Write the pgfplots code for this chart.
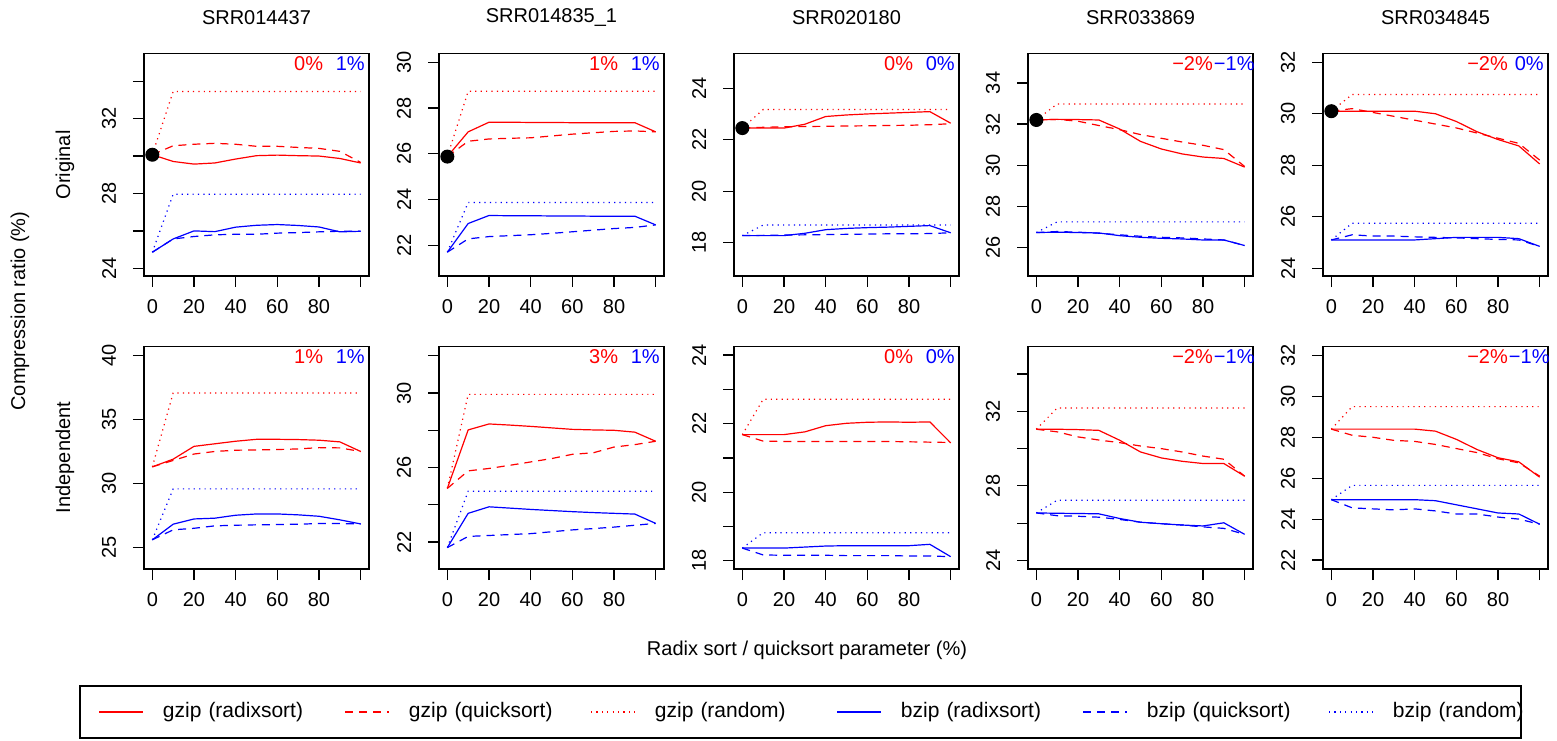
\documentclass[border=0pt]{standalone}
\usepackage{fontspec}
\setmainfont{Liberation Sans}
\usepackage{pgfplots}
\pgfplotsset{compat=1.18}
\newcommand\lab{\fontsize{10}{12}\selectfont}
\newcommand\leg{\fontsize{10.5}{12.5}\selectfont}
\pgfplotsset{
  panel/.style={
    scale only axis, width=112.5pt, height=111.25pt,
    anchor=south west,
    xmin=-4, xmax=104,
    xtick={0,20,40,60,80,100}, xticklabels={0,20,40,60,80,},
    tick align=outside, xtick pos=bottom, ytick pos=left,
    major tick length=5.5pt,
    every tick/.style={black, line width=0.6pt},
    axis line style={line width=0.6pt},
    tick label style={font=\lab},
    xticklabel style={yshift=-2.7pt},
    yticklabel style={xshift=-4.9pt, rotate=90, anchor=south},
    /pgf/number format/assume math mode=true,
    every axis plot/.append style={line width=0.6pt},
    clip=true,
  },
  rs/.style={red, solid},
  rq/.style={red, dash pattern=on 4pt off 3pt},
  rr/.style={red, dash pattern=on 0.6pt off 2.1pt},
  bs/.style={blue, solid},
  bq/.style={blue, dash pattern=on 4pt off 3pt},
  br/.style={blue, dash pattern=on 0.6pt off 2.1pt},
  dot/.style={only marks, mark=*, mark size=3.2pt, black},
}
\newcommand\ann[2]{\pgfplotsextra{\begin{scope}\clip (rel axis cs:0,0) rectangle (rel axis cs:1,1);
  \node[red,font=\lab] at (rel axis cs:0.7315,0.955) {#1};
  \node[blue,font=\lab] at (rel axis cs:0.9167,0.955) {#2};\end{scope}}}
\begin{document}
\begin{tikzpicture}
% ---------------- top row ----------------
\begin{axis}[panel, at={(72pt,232pt)}, ymin=23.59, ymax=35.48,
  ytick={24,26,...,34}, yticklabels={24,,28,,32,}]
\addplot[rs] coordinates {(0,30.07)(10,29.71)(20,29.57)(30,29.63)(40,29.84)(50,30.02)(60,30.05)(70,30.02)(80,30.0)(90,29.87)(100,29.63)};
\addplot[rq] coordinates {(0,30.07)(10,30.55)(20,30.63)(30,30.68)(40,30.63)(50,30.52)(60,30.52)(70,30.46)(80,30.41)(90,30.25)(100,29.66)};
\addplot[rr] coordinates {(0,30.07)(10,33.45)(100,33.45)};
\addplot[bs] coordinates {(0,24.86)(10,25.57)(20,26.0)(30,25.96)(40,26.2)(50,26.3)(60,26.34)(70,26.29)(80,26.21)(90,25.95)(100,25.98)};
\addplot[bq] coordinates {(0,24.86)(10,25.57)(20,25.7)(30,25.79)(40,25.82)(50,25.82)(60,25.88)(70,25.91)(80,25.95)(90,25.98)(100,25.98)};
\addplot[br] coordinates {(0,24.86)(10,27.96)(100,27.96)};
\addplot[dot] coordinates {(0,30.07)};
\ann{0\%}{1\%}
\end{axis}
\begin{axis}[panel, at={(219.5pt,232pt)}, ymin=20.67, ymax=30.38,
  ytick={22,24,...,30}]
\addplot[rs] coordinates {(0,25.88)(10,26.96)(20,27.38)(30,27.38)(40,27.37)(50,27.37)(60,27.36)(70,27.36)(80,27.36)(90,27.36)(100,26.96)};
\addplot[rq] coordinates {(0,25.88)(10,26.55)(20,26.65)(30,26.68)(40,26.7)(50,26.78)(60,26.86)(70,26.92)(80,26.98)(90,27.0)(100,26.96)};
\addplot[rr] coordinates {(0,25.88)(10,28.73)(100,28.73)};
\addplot[bs] coordinates {(0,21.71)(10,22.96)(20,23.31)(30,23.3)(40,23.3)(50,23.29)(60,23.29)(70,23.28)(80,23.28)(90,23.28)(100,22.9)};
\addplot[bq] coordinates {(0,21.71)(10,22.29)(20,22.39)(30,22.43)(40,22.47)(50,22.53)(60,22.6)(70,22.67)(80,22.74)(90,22.79)(100,22.9)};
\addplot[br] coordinates {(0,21.71)(10,23.88)(100,23.88)};
\addplot[dot] coordinates {(0,25.88)};
\ann{1\%}{1\%}
\end{axis}
\begin{axis}[panel, at={(367pt,232pt)}, ymin=16.7, ymax=25.35,
  ytick={18,20,...,24}]
\addplot[rs] coordinates {(0,22.45)(10,22.45)(20,22.45)(30,22.6)(40,22.9)(50,22.96)(60,23.0)(70,23.03)(80,23.06)(90,23.09)(100,22.64)};
\addplot[rq] coordinates {(0,22.45)(10,22.48)(20,22.5)(30,22.51)(40,22.52)(50,22.53)(60,22.54)(70,22.55)(80,22.56)(90,22.58)(100,22.62)};
\addplot[rr] coordinates {(0,22.45)(10,23.17)(100,23.17)};
\addplot[bs] coordinates {(0,18.27)(10,18.27)(20,18.27)(30,18.36)(40,18.5)(50,18.55)(60,18.58)(70,18.6)(80,18.63)(90,18.66)(100,18.38)};
\addplot[bq] coordinates {(0,18.27)(10,18.28)(20,18.29)(30,18.3)(40,18.31)(50,18.32)(60,18.33)(70,18.34)(80,18.34)(90,18.35)(100,18.38)};
\addplot[br] coordinates {(0,18.27)(10,18.68)(100,18.68)};
\addplot[dot] coordinates {(0,22.45)};
\ann{0\%}{0\%}
\end{axis}
\begin{axis}[panel, at={(514pt,232pt)}, ymin=24.62, ymax=35.43,
  ytick={26,28,...,34}]
\addplot[rs] coordinates {(0,32.2)(10,32.23)(20,32.22)(30,32.2)(40,31.76)(50,31.16)(60,30.79)(70,30.55)(80,30.4)(90,30.33)(100,29.91)};
\addplot[rq] coordinates {(0,32.2)(10,32.23)(20,32.14)(30,31.93)(40,31.73)(50,31.49)(60,31.31)(70,31.13)(80,30.97)(90,30.76)(100,29.94)};
\addplot[rr] coordinates {(0,32.2)(10,32.98)(100,32.98)};
\addplot[bs] coordinates {(0,26.73)(10,26.75)(20,26.73)(30,26.71)(40,26.58)(50,26.5)(60,26.45)(70,26.42)(80,26.37)(90,26.37)(100,26.1)};
\addplot[bq] coordinates {(0,26.73)(10,26.78)(20,26.75)(30,26.7)(40,26.62)(50,26.55)(60,26.5)(70,26.47)(80,26.42)(90,26.37)(100,26.1)};
\addplot[br] coordinates {(0,26.73)(10,27.25)(100,27.25)};
\addplot[dot] coordinates {(0,32.2)};
\ann{−2\%}{−1\%}
\end{axis}
\begin{axis}[panel, at={(661.5pt,232pt)}, ymin=23.7, ymax=32.34,
  ytick={24,26,...,32}]
\addplot[rs] coordinates {(0,30.1)(10,30.1)(20,30.1)(30,30.1)(40,30.1)(50,30.0)(60,29.7)(70,29.3)(80,29.0)(90,28.75)(100,28.05)};
\addplot[rq] coordinates {(0,30.1)(10,30.2)(20,30.05)(30,29.9)(40,29.75)(50,29.6)(60,29.45)(70,29.25)(80,29.05)(90,28.85)(100,28.2)};
\addplot[rr] coordinates {(0,30.1)(10,30.75)(100,30.75)};
\addplot[bs] coordinates {(0,25.1)(10,25.1)(20,25.1)(30,25.1)(40,25.1)(50,25.15)(60,25.2)(70,25.2)(80,25.2)(90,25.15)(100,24.85)};
\addplot[bq] coordinates {(0,25.1)(10,25.3)(20,25.25)(30,25.25)(40,25.22)(50,25.2)(60,25.18)(70,25.15)(80,25.12)(90,25.1)(100,24.85)};
\addplot[br] coordinates {(0,25.1)(10,25.75)(100,25.75)};
\addplot[dot] coordinates {(0,30.1)};
\ann{−2\%}{0\%}
\end{axis}
% ---------------- bottom row ----------------
\begin{axis}[panel, at={(72pt,85.5pt)}, ymin=23.32, ymax=40.7,
  ytick={25,30,...,40}]
\addplot[rs] coordinates {(0,31.3)(10,31.9)(20,32.9)(30,33.1)(40,33.3)(50,33.45)(60,33.45)(70,33.43)(80,33.38)(90,33.25)(100,32.5)};
\addplot[rq] coordinates {(0,31.3)(10,31.8)(20,32.3)(30,32.5)(40,32.6)(50,32.62)(60,32.65)(70,32.7)(80,32.8)(90,32.78)(100,32.5)};
\addplot[rr] coordinates {(0,31.3)(10,37.07)(100,37.07)};
\addplot[bs] coordinates {(0,25.6)(10,26.82)(20,27.23)(30,27.29)(40,27.52)(50,27.62)(60,27.62)(70,27.55)(80,27.44)(90,27.16)(100,26.84)};
\addplot[bq] coordinates {(0,25.6)(10,26.38)(20,26.5)(30,26.69)(40,26.74)(50,26.77)(60,26.79)(70,26.82)(80,26.87)(90,26.87)(100,26.84)};
\addplot[br] coordinates {(0,25.6)(10,29.58)(100,29.58)};
\ann{1\%}{1\%}
\end{axis}
\begin{axis}[panel, at={(219.5pt,85.5pt)}, ymin=20.55, ymax=32.5,
  ytick={22,24,...,32}, yticklabels={22,,26,,30,}]
\addplot[rs] coordinates {(0,24.88)(10,28.02)(20,28.34)(30,28.28)(40,28.21)(50,28.13)(60,28.05)(70,28.02)(80,28.0)(90,27.9)(100,27.41)};
\addplot[rq] coordinates {(0,24.88)(10,25.82)(20,25.95)(30,26.12)(40,26.3)(50,26.48)(60,26.71)(70,26.79)(80,27.1)(90,27.23)(100,27.41)};
\addplot[rr] coordinates {(0,24.88)(10,29.93)(100,29.93)};
\addplot[bs] coordinates {(0,21.7)(10,23.54)(20,23.89)(30,23.82)(40,23.75)(50,23.69)(60,23.63)(70,23.58)(80,23.54)(90,23.5)(100,23.0)};
\addplot[bq] coordinates {(0,21.7)(10,22.3)(20,22.35)(30,22.4)(40,22.45)(50,22.55)(60,22.65)(70,22.72)(80,22.8)(90,22.9)(100,23.0)};
\addplot[br] coordinates {(0,21.7)(10,24.73)(100,24.73)};
\ann{3\%}{1\%}
\end{axis}
\begin{axis}[panel, at={(367pt,85.5pt)}, ymin=17.76, ymax=24.25,
  ytick={18,19,...,24}, yticklabels={18,,20,,22,,24}]
\addplot[rs] coordinates {(0,21.68)(10,21.68)(20,21.68)(30,21.76)(40,21.94)(50,22.01)(60,22.04)(70,22.05)(80,22.04)(90,22.05)(100,21.44)};
\addplot[rq] coordinates {(0,21.68)(10,21.49)(20,21.48)(30,21.48)(40,21.48)(50,21.48)(60,21.48)(70,21.48)(80,21.47)(90,21.46)(100,21.45)};
\addplot[rr] coordinates {(0,21.68)(10,22.71)(100,22.71)};
\addplot[bs] coordinates {(0,18.37)(10,18.37)(20,18.37)(30,18.4)(40,18.43)(50,18.44)(60,18.44)(70,18.44)(80,18.44)(90,18.48)(100,18.12)};
\addplot[bq] coordinates {(0,18.37)(10,18.17)(20,18.16)(30,18.16)(40,18.16)(50,18.15)(60,18.15)(70,18.15)(80,18.14)(90,18.14)(100,18.12)};
\addplot[br] coordinates {(0,18.37)(10,18.82)(100,18.82)};
\ann{0\%}{0\%}
\end{axis}
\begin{axis}[panel, at={(514pt,85.5pt)}, ymin=23.54, ymax=35.48,
  ytick={24,26,...,34}, yticklabels={24,,28,,32,}]
\addplot[rs] coordinates {(0,31.04)(10,31.04)(20,31.02)(30,30.98)(40,30.45)(50,29.82)(60,29.5)(70,29.32)(80,29.2)(90,29.2)(100,28.52)};
\addplot[rq] coordinates {(0,31.04)(10,30.9)(20,30.63)(30,30.46)(40,30.32)(50,30.14)(60,30.0)(70,29.82)(80,29.6)(90,29.43)(100,28.52)};
\addplot[rr] coordinates {(0,31.04)(10,32.18)(100,32.18)};
\addplot[bs] coordinates {(0,26.55)(10,26.53)(20,26.52)(30,26.5)(40,26.25)(50,26.05)(60,25.97)(70,25.9)(80,25.85)(90,26.02)(100,25.4)};
\addplot[bq] coordinates {(0,26.55)(10,26.4)(20,26.37)(30,26.32)(40,26.2)(50,26.05)(60,25.97)(70,25.9)(80,25.8)(90,25.72)(100,25.4)};
\addplot[br] coordinates {(0,26.55)(10,27.23)(100,27.23)};
\ann{−2\%}{−1\%}
\end{axis}
\begin{axis}[panel, at={(661.5pt,85.5pt)}, ymin=21.56, ymax=32.44,
  ytick={22,24,...,32},
  legend columns=6,
  legend image code/.code={\pgfpathrectangle{\pgfpoint{0pt}{-1pt}}{\pgfpoint{32pt}{2pt}}\pgfusepath{}},
  legend style={at={(-5.44,-0.6413)}, anchor=west, draw=none, fill=none,
    inner sep=0pt, outer sep=0pt, /tikz/column sep=0pt, font=\leg,
    nodes={text width=91pt, inner xsep=0pt, align=left}},
  legend cell align=left]
\addplot[rs] coordinates {(0,28.4)(10,28.4)(20,28.4)(30,28.4)(40,28.4)(50,28.3)(60,27.9)(70,27.4)(80,27.0)(90,26.8)(100,26.05)};
\addplot[rq] coordinates {(0,28.4)(10,28.1)(20,28.0)(30,27.85)(40,27.8)(50,27.65)(60,27.45)(70,27.25)(80,26.95)(90,26.75)(100,26.1)};
\addplot[rr] coordinates {(0,28.4)(10,29.5)(100,29.5)};
\addplot[bs] coordinates {(0,24.95)(10,24.95)(20,24.95)(30,24.95)(40,24.95)(50,24.9)(60,24.7)(70,24.5)(80,24.3)(90,24.25)(100,23.75)};
\addplot[bq] coordinates {(0,24.95)(10,24.55)(20,24.5)(30,24.45)(40,24.5)(50,24.4)(60,24.25)(70,24.25)(80,24.1)(90,24.0)(100,23.75)};
\addplot[br] coordinates {(0,24.95)(10,25.65)(100,25.65)};
\ann{−2\%}{−1\%}
\legend{gzip (radixsort), gzip (quicksort), gzip (random), bzip (radixsort), bzip (quicksort), bzip (random)}
\end{axis}
% ---------------- legend keys ----------------
\draw[red, line width=0.6pt] (49.5pt,14pt) -- ++(22pt,0pt);
\draw[red, dash pattern=on 4pt off 3pt, line width=0.6pt] (172.5pt,14pt) -- ++(22pt,0pt);
\draw[red, dash pattern=on 0.6pt off 2.1pt, line width=0.6pt] (295.5pt,14pt) -- ++(22pt,0pt);
\draw[blue, line width=0.6pt] (418.5pt,14pt) -- ++(22pt,0pt);
\draw[blue, dash pattern=on 4pt off 3pt, line width=0.6pt] (541.5pt,14pt) -- ++(22pt,0pt);
\draw[blue, dash pattern=on 0.6pt off 2.1pt, line width=0.6pt] (664.5pt,14pt) -- ++(22pt,0pt);
% ---------------- outer labels ----------------
\node[font=\lab] at (128.25pt,361pt) {SRR014437};
\node[font=\lab] at (275.75pt,361pt) {SRR014835\_1};
\node[font=\lab] at (423.25pt,361pt) {SRR020180};
\node[font=\lab] at (570.25pt,361pt) {SRR033869};
\node[font=\lab] at (717.75pt,361pt) {SRR034845};
\node[font=\lab, rotate=90] at (10pt,214.5pt) {Compression ratio (\%)};
\node[font=\lab, rotate=90] at (32.5pt,287.5pt) {Original};
\node[font=\lab, rotate=90] at (32.5pt,141.25pt) {Independent};
\node[font=\lab] at (403.5pt,45pt) {Radix sort / quicksort parameter (\%)};
\draw[line width=0.6pt] (40pt,1pt) rectangle (760.5pt,27pt);
\pgfresetboundingbox
\useasboundingbox (0,0) rectangle (778.5pt,370pt);
\end{tikzpicture}
\end{document}
